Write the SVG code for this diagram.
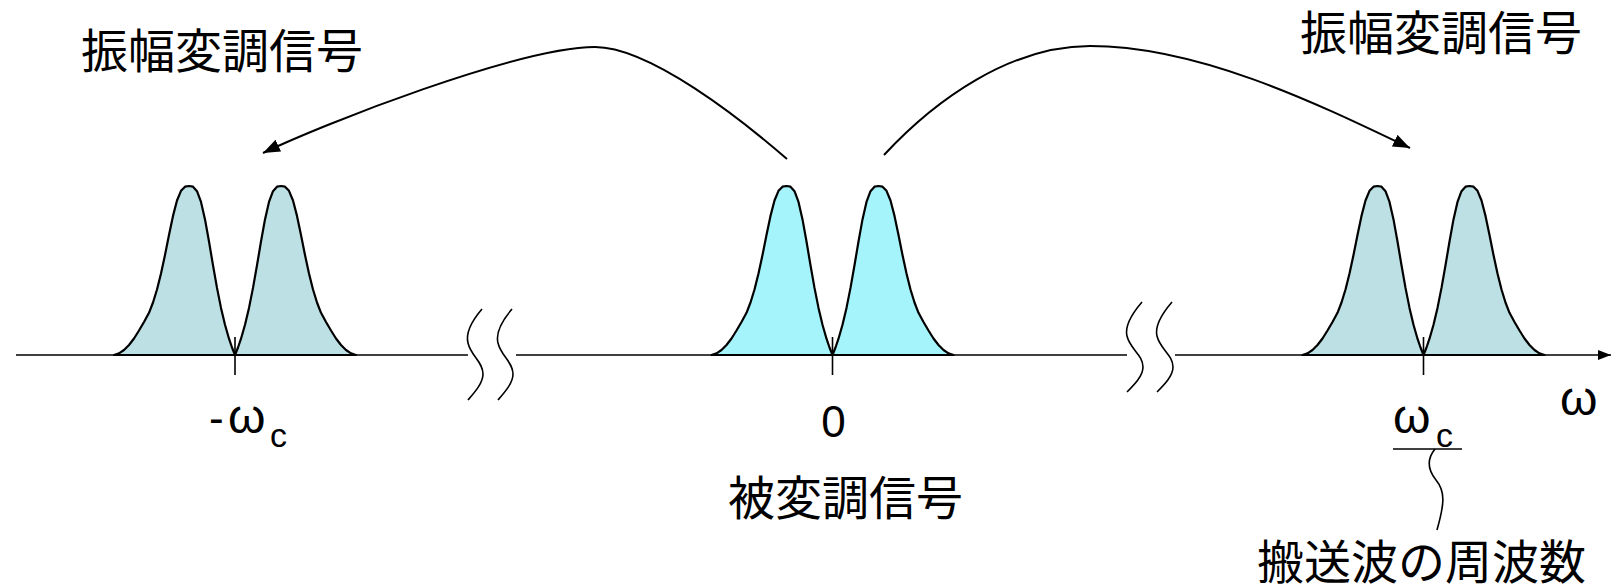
<svg xmlns="http://www.w3.org/2000/svg" xmlns:xlink="http://www.w3.org/1999/xlink" width="1612" height="586" viewBox="0 0 1612 586">
<style>
.jp{font-family:"Noto Sans CJK JP","Noto Sans CJK SC",sans-serif;font-size:47px;fill:#000}
.lat{font-family:"Liberation Sans",Arial,sans-serif;fill:#000}
.line{fill:none;stroke:#000;stroke-width:1.6}
.arc{fill:none;stroke:#000;stroke-width:2}
.side{fill:#BCE0E3;stroke:#000;stroke-width:2.2;stroke-linejoin:round}
.mid{fill:#A6F4FB;stroke:#000;stroke-width:2.2;stroke-linejoin:round}
</style>
<defs>
<marker id="ah" markerUnits="userSpaceOnUse" markerWidth="18" markerHeight="14" refX="17" refY="6.5" orient="auto"><path d="M0,0 L17,6.5 L0,13 z" fill="#000"/></marker>
<marker id="axh" markerUnits="userSpaceOnUse" markerWidth="14" markerHeight="11" refX="13" refY="5" orient="auto"><path d="M0,0 L13,5 L0,10 z" fill="#000"/></marker>
<path id="pair" d="M-121,0 L-116,-1.6 L-111,-5 L-106,-10 L-101,-16.5 L-96,-24.5 L-91,-33 L-86,-42.2 L-82,-52.5 L-78,-65.5 L-74,-81.4 L-70,-100 L-66,-120 L-62,-139.1 L-58,-154.5 L-54,-164.2 L-50,-168.3 L-46,-169 L-42,-168.3 L-38,-163.8 L-34,-153.1 L-30,-135.6 L-26,-113.5 L-22,-89.7 L-18,-67.1 L-14,-47.1 L-10,-30.2 L-6,-16.3 L-3,-7.5 L0,0 L3,-7.5 L6,-16.3 L10,-30.2 L14,-47.1 L18,-67.1 L22,-89.7 L26,-113.5 L30,-135.6 L34,-153.1 L38,-163.8 L42,-168.3 L46,-169 L50,-168.3 L54,-164.2 L58,-154.5 L62,-139.1 L66,-120 L70,-100 L74,-81.4 L78,-65.5 L82,-52.5 L86,-42.2 L91,-33 L96,-24.5 L101,-16.5 L106,-10 L111,-5 L116,-1.6 L121,0 Z"/>
</defs>
<rect width="1612" height="586" fill="#fff"/>
<g id="axis">
<line class="line" x1="16" y1="355" x2="468" y2="355"/>
<line class="line" x1="516" y1="355" x2="1127" y2="355"/>
<line class="line" x1="1175" y1="355" x2="1611" y2="355" marker-end="url(#axh)"/>
<path class="line" d="M482,309 C470,323 466,335 468,343 C471,356 483,362 483,374 C483,383 475,392 468,400"/>
<path class="line" d="M512,309 C500,323 496,335 498,343 C501,356 513,362 513,374 C513,383 505,392 498,400"/>
<path class="line" d="M1142,302 C1130,316 1125,328 1127,336 C1130,349 1143,355 1143,367 C1143,376 1134,385 1127,392"/>
<path class="line" d="M1172,302 C1160,316 1155,328 1157,336 C1160,349 1173,355 1173,367 C1173,376 1164,385 1157,392"/>
</g>
<g id="node-left">
<use xlink:href="#pair" href="#pair" class="side" transform="translate(235,355)"/>
<line class="line" x1="235" y1="337" x2="235" y2="375"/>
<text class="lat" font-size="44" x="209" y="433">-</text>
<text class="lat" font-size="48" x="228" y="433">ω</text>
<text class="lat" font-size="34" x="270" y="447">c</text>
</g>
<g id="node-center">
<use xlink:href="#pair" href="#pair" class="mid" transform="translate(832.5,355)"/>
<line class="line" x1="832.5" y1="337" x2="832.5" y2="375"/>
<text class="lat" font-size="44" x="833.5" y="437" text-anchor="middle">0</text>
</g>
<g id="node-right">
<use xlink:href="#pair" href="#pair" class="side" transform="translate(1423.5,355)"/>
<line class="line" x1="1423.5" y1="337" x2="1423.5" y2="375"/>
<text class="lat" font-size="48" x="1393" y="433">ω</text>
<text class="lat" font-size="34" x="1436" y="447">c</text>
<line class="line" x1="1393" y1="449" x2="1462" y2="449"/>
</g>
<g id="axis-label">
<text class="lat" font-size="48" x="1560" y="415">ω</text>
</g>
<g id="labels">
<text class="jp" x="81" y="68">振幅変調信号</text>
<text class="jp" x="1300" y="50">振幅変調信号</text>
<text class="jp" x="728" y="515">被変調信号</text>
<text class="jp" x="1257" y="579">搬送波の周波数</text>
</g>
<g id="connectors">
<path class="arc" d="M787,159 C742,120 650,47 595,47 C520,47 323,124 263,153" marker-end="url(#ah)"/>
<path class="arc" d="M884,155 C935,100 1010,46 1090,46 C1200,46 1320,105 1410,148" marker-end="url(#ah)"/>
<path class="line" d="M1435,449 C1426,460 1428,470 1436,480 C1446,492 1444,505 1437,530"/>
</g>
</svg>
